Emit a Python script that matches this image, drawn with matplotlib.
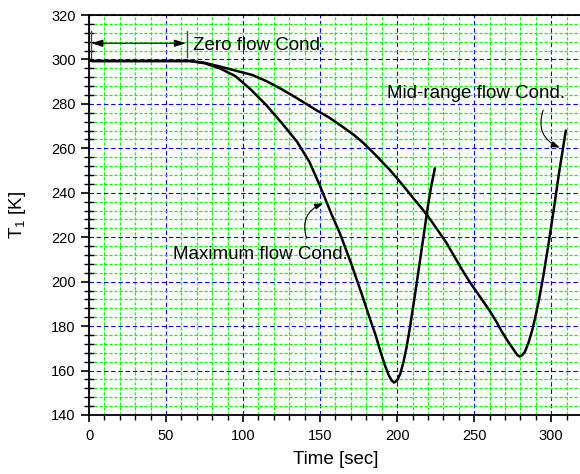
import matplotlib
matplotlib.use("Agg")
import matplotlib.pyplot as plt
from matplotlib.ticker import MultipleLocator

plt.rcParams['font.family'] = ['Liberation Sans', 'DejaVu Sans']
plt.rcParams['mathtext.default'] = 'regular'

# Maximum flow condition
t_max = [0, 2, 20, 40, 65.5, 75, 85, 95, 105, 115, 125, 135, 143, 150, 157, 163, 170, 177,
         182, 186, 189, 192, 194.5, 196.5, 198, 200, 202, 204, 206, 208, 210, 212, 214, 216,
         218, 220, 222, 224.5]
T_max = [300, 299.3, 299.3, 299.3, 299.3, 298.3, 296, 292.5, 286.5, 279.5, 271.5, 263, 254, 243,
         231, 221.5, 208.5, 194.5, 184, 176, 169, 162.5, 158, 155.5, 154.6, 155.5, 158.5, 163.5,
         170, 178, 187, 196, 205.5, 215, 224.5, 234, 242.5, 251]

# Mid-range flow condition
t_mid = [0, 2, 20, 40, 65.5, 75, 85, 95, 106, 115, 124, 132, 141, 148, 156, 165, 172, 178, 186,
         195, 203, 210, 216, 221, 226, 232, 237, 242.5, 247, 251, 256, 260, 264, 268, 272, 276,
         278, 279.5, 281, 283, 285.5, 288, 290, 292, 295, 298.5, 302, 305, 309.5]
T_mid = [300, 299.3, 299.3, 299.3, 299.3, 298.5, 296.8, 295, 293, 290.3, 287, 283.8, 280, 277,
         273.8, 269.5, 266, 262.5, 257, 250.5, 244, 238, 233, 228.5, 223.5, 217.5, 211.5, 205,
         200, 196, 191, 187, 182.5, 177.5, 173, 169, 167, 166.3, 166.8, 168.5, 173, 179, 185,
         191.5, 203, 218, 234, 248.5, 268]

x_ticks = [0, 50, 100, 150, 200, 250, 300]
y_ticks = [140, 160, 180, 200, 220, 240, 260, 280, 300, 320]

fig = plt.figure(figsize=(5.8, 4.74), dpi=100)
ax = fig.add_axes([89 / 580, 59 / 474, 493 / 580, 400 / 474])

ax.set_xlim(0, 320)
ax.set_ylim(140, 320)
ax.set_xticks(x_ticks)
ax.set_yticks(y_ticks)
ax.xaxis.set_minor_locator(MultipleLocator(10))
ax.yaxis.set_minor_locator(MultipleLocator(4))

ax.grid(which='minor', color='#00ff00', linestyle=(0, (2.5, 1.5)), linewidth=0.9, zorder=0)
ax.grid(which='major', color='#0000ff', linestyle=(0, (4, 2.5)), linewidth=0.8, zorder=0)
ax.set_axisbelow(True)

ax.plot(t_max, T_max, color='black', linewidth=1.8, zorder=3,
        solid_joinstyle='round', solid_capstyle='round')
ax.plot(t_mid, T_mid, color='black', linewidth=1.8, zorder=3,
        solid_joinstyle='round', solid_capstyle='round')

for s in ['left', 'bottom', 'top', 'right']:
    ax.spines[s].set_linewidth(1.3)

ax.tick_params(axis='both', which='major', labelsize=10.5, width=1.2)
ax.tick_params(axis='y', which='major', direction='out', length=6)
ax.tick_params(axis='y', which='minor', direction='inout', length=6.5, width=1.0)
ax.tick_params(axis='x', which='major', direction='out', length=5, pad=5)
ax.tick_params(axis='x', which='minor', direction='out', length=3.5, width=1.0)

ax.set_xlabel('Time [sec]', fontsize=13.5, labelpad=6)
ax.set_ylabel('T$_1$ [K]', fontsize=13.5, labelpad=17)

# Zero flow annotation
ax.plot([1, 1], [300.5, 313], color='#444444', linewidth=1.0, zorder=4)
ax.plot([63.4, 63.4], [301.2, 313], color='#444444', linewidth=1.0, zorder=4)
ax.annotate('', xy=(1.5, 307.3), xytext=(62.9, 307.3),
            arrowprops=dict(arrowstyle='<|-|>,head_length=0.7,head_width=0.22',
                            color='black', lw=0.8, shrinkA=0, shrinkB=0), zorder=4)
ax.text(67.7, 306.5, 'Zero flow Cond.', fontsize=13.5, va='center', ha='left', zorder=5)

# Maximum flow annotation
ax.text(54.3, 212.3, 'Maximum flow Cond.', fontsize=13.5, va='center', ha='left', zorder=5)
ax.annotate('', xy=(152, 235.3), xytext=(141.2, 219.5),
            arrowprops=dict(arrowstyle='-|>,head_length=0.5,head_width=0.18',
                            color='black', lw=0.8, shrinkA=0, shrinkB=0,
                            connectionstyle='arc3,rad=-0.45'), zorder=5)

# Mid-range flow annotation
ax.text(193.6, 284.8, 'Mid-range flow Cond.', fontsize=13.5, va='center', ha='left', zorder=5)
ax.annotate('', xy=(305.6, 260.3), xytext=(294.8, 277.2),
            arrowprops=dict(arrowstyle='-|>,head_length=0.5,head_width=0.18',
                            color='black', lw=0.8, shrinkA=0, shrinkB=0,
                            connectionstyle='arc3,rad=0.45'), zorder=5)

fig.savefig('out.png', dpi=100)
